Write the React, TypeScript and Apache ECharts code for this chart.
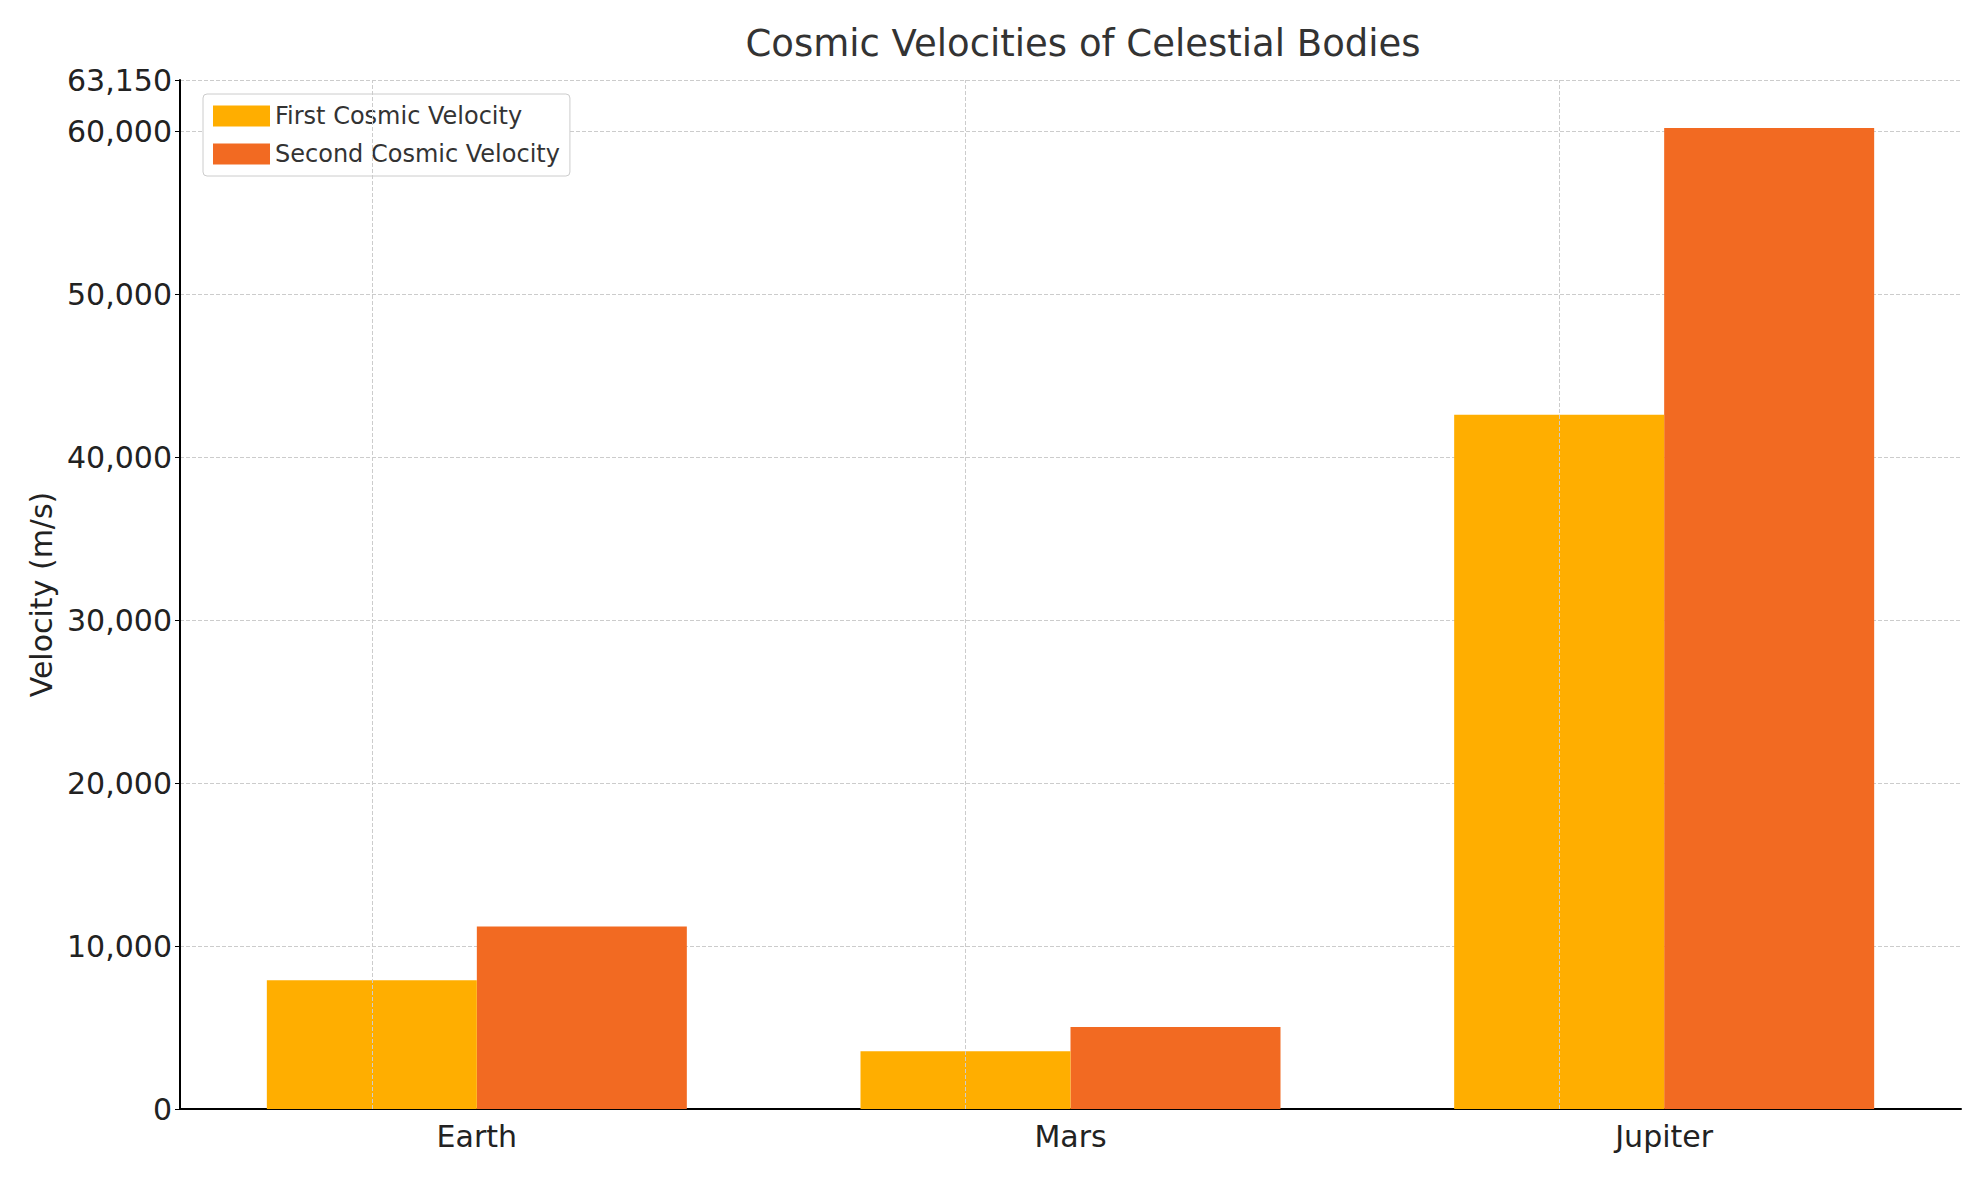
import React, { useEffect, useRef } from "react";
import * as echarts from "echarts";

const categories = ["Earth", "Mars", "Jupiter"];
const firstVelocity = [7900, 3550, 42600];
const secondVelocity = [11200, 5030, 60200];

export default function App() {
  const ref = useRef<HTMLDivElement>(null);
  useEffect(() => {
    const chart = echarts.init(ref.current!, null, { renderer: "svg" });
    const font = "DejaVu Sans";
    chart.setOption({
      animation: false,
      textStyle: { fontFamily: font },
      title: {
        text: "Cosmic Velocities of Celestial Bodies",
        left: 1070, top: 12, textAlign: "center",
        textStyle: { fontFamily: font, fontSize: 37, fontWeight: "normal", color: "#333" },
      },
      legend: {
        left: 195, top: 86, orient: "vertical",
        itemWidth: 57, itemHeight: 21, itemGap: 14,
        padding: [10, 10, 10, 10],
        borderColor: "#ccc", borderWidth: 1, borderRadius: 4, backgroundColor: "#fff",
        textStyle: { fontFamily: font, fontSize: 24, color: "#333" },
        icon: "rect",
      },
      grid: { left: 172, right: 10, top: 72, bottom: 63 },
      xAxis: {
        type: "category", data: categories,
        axisLine: { lineStyle: { color: "#000", width: 2 } },
        axisTick: { alignWithLabel: true, lineStyle: { color: "#000" } },
        axisLabel: { fontFamily: font, fontSize: 30, color: "#222", margin: 12 },
        splitLine: { show: false },
      },
      yAxis: {
        type: "value", min: 0, max: 63150, interval: 10000,
        name: "Velocity (m/s)", nameLocation: "middle", nameGap: 120,
        nameTextStyle: { fontFamily: font, fontSize: 30, color: "#222" },
        axisLine: { show: true, lineStyle: { color: "#000", width: 2 } },
        axisTick: { show: true, lineStyle: { color: "#000" } },
        axisLabel: { fontFamily: font, fontSize: 30, color: "#222" },
        splitLine: { lineStyle: { color: "#ccc", type: "dashed" } },
      },
      series: [
        {
          name: "First Cosmic Velocity", type: "bar", data: firstVelocity,
          barWidth: 210, barGap: "0%", itemStyle: { color: "#FFAE00" },
          markLine: {
            silent: true, symbol: "none", label: { show: false },
            lineStyle: { color: "#ccc", type: "dashed", width: 1 },
            data: categories.map((c) => ({ xAxis: c })),
          },
        },
        {
          name: "Second Cosmic Velocity", type: "bar", data: secondVelocity,
          barWidth: 210, itemStyle: { color: "#F26A22" }, z: 1,
        },
      ],
    });
    return () => chart.dispose();
  }, []);
  return <div ref={ref} style={{ width: 1963, height: 1164 }} />;
}
